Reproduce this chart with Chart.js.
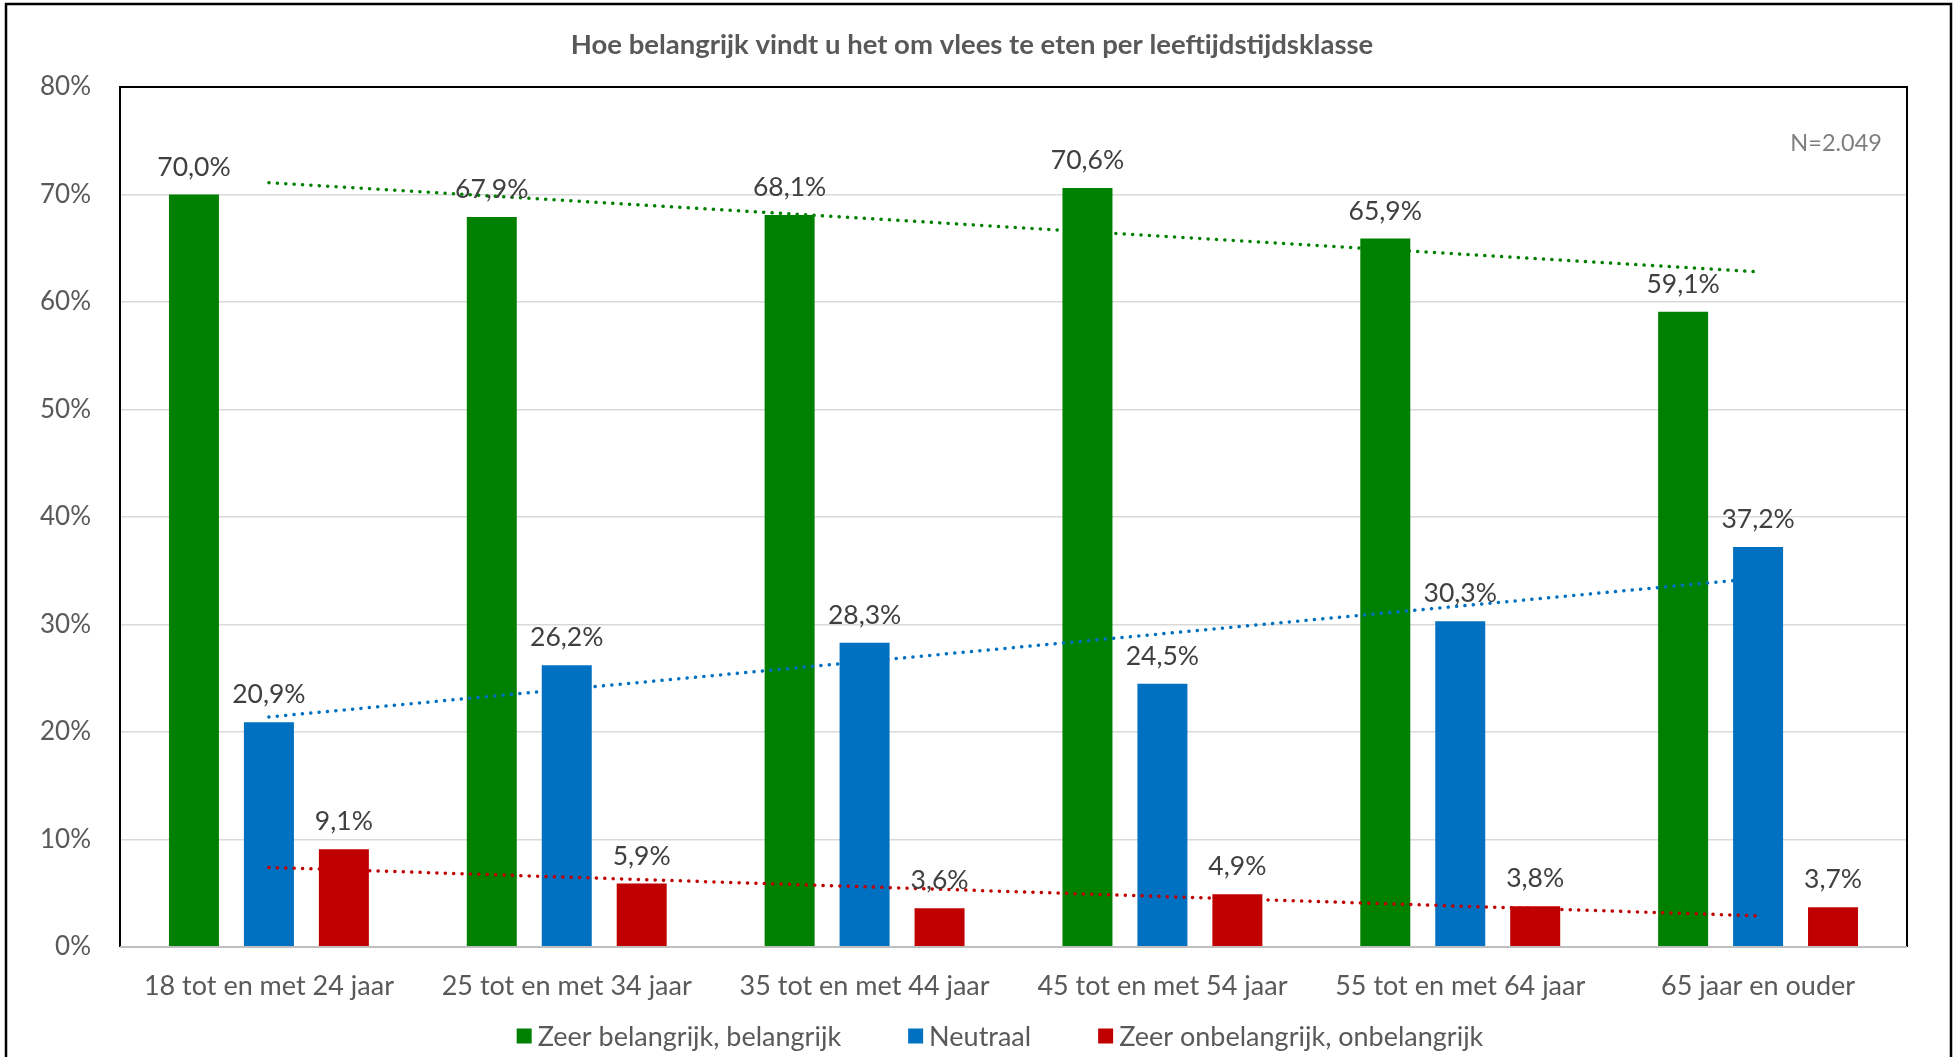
<!DOCTYPE html>
<html>
<head>
<meta charset="utf-8">
<script src="https://cdn.jsdelivr.net/npm/chart.js@4.4.1/dist/chart.umd.min.js"></script>
<style>
  html, body { margin: 0; padding: 0; background: #fff; overflow: hidden; }
  #wrap { position: relative; width: 1957px; height: 1057px; }
</style>
</head>
<body>
<div id="wrap"><canvas id="chart" width="1957" height="1057"></canvas></div>
<script>
// Data
const chartTitle = 'Hoe belangrijk vindt u het om vlees te eten per leeftijdstijdsklasse';
const sampleNote = 'N=2.049';
const categories = [
  '18 tot en met 24 jaar',
  '25 tot en met 34 jaar',
  '35 tot en met 44 jaar',
  '45 tot en met 54 jaar',
  '55 tot en met 64 jaar',
  '65 jaar en ouder'
];
const seriesLabels = ['Zeer belangrijk, belangrijk', 'Neutraal', 'Zeer onbelangrijk, onbelangrijk'];
const importantValues = [70.0, 67.9, 68.1, 70.6, 65.9, 59.1];
const neutralValues = [20.9, 26.2, 28.3, 24.5, 30.3, 37.2];
const unimportantValues = [9.1, 5.9, 3.6, 4.9, 3.8, 3.7];
// trend lines: value at first and last category
const importantTrend = [71.1, 62.8];
const neutralTrend = [21.4, 34.3];
const unimportantTrend = [7.4, 2.9];
const yTicks = [0, 10, 20, 30, 40, 50, 60, 70, 80];
const seriesColors = ['#008000', '#0070C0', '#C00000'];

const FONT = 'Lato';
const TEXT_GREY = '#595959';

function trendData(pair) {
  return categories.map((c, i) => {
    if (i === 0) return pair[0];
    if (i === categories.length - 1) return pair[1];
    return null;
  });
}

function pct(v) {
  return v.toFixed(1).replace('.', ',') + '%';
}

function barSet(label, data, color) {
  return {
    type: 'bar',
    label: label,
    data: data,
    backgroundColor: color,
    borderWidth: 0,
    categoryPercentage: 0.755,
    barPercentage: 0.667,
    order: 2
  };
}

function trendSet(pair, color) {
  return {
    type: 'line',
    label: 'trend',
    data: trendData(pair),
    borderColor: color,
    borderWidth: 3.5,
    borderDash: [0.1, 8.3],
    borderCapStyle: 'round',
    pointRadius: 0,
    spanGaps: true,
    fill: false,
    order: 1
  };
}

// Frame, title, note, data labels and legend
const decorPlugin = {
  id: 'decor',
  afterDatasetsDraw(chart) {
    const ctx = chart.ctx;
    ctx.save();

    // data labels above bars
    ctx.font = '26.5px ' + FONT;
    ctx.fillStyle = '#404040';
    ctx.textAlign = 'center';
    ctx.textBaseline = 'alphabetic';
    chart.data.datasets.forEach((ds, di) => {
      if (ds.type !== 'bar') return;
      chart.getDatasetMeta(di).data.forEach((el, i) => {
        ctx.fillText(pct(ds.data[i]), el.x, el.y - 19);
      });
    });
    ctx.restore();
  },
  afterDraw(chart) {
    const ctx = chart.ctx;
    const a = chart.chartArea;
    ctx.save();

    // plot frame
    ctx.strokeStyle = '#000';
    ctx.lineWidth = 2;
    ctx.beginPath();
    ctx.moveTo(a.left, a.bottom);
    ctx.lineTo(a.left, a.top);
    ctx.lineTo(a.right, a.top);
    ctx.lineTo(a.right, a.bottom);
    ctx.stroke();
    ctx.strokeStyle = '#bfbfbf';
    ctx.beginPath();
    ctx.moveTo(a.left, a.bottom);
    ctx.lineTo(a.right, a.bottom);
    ctx.stroke();

    // outer border
    ctx.strokeStyle = '#000';
    ctx.lineWidth = 2.5;
    ctx.strokeRect(6, 4, 1945, 1100);

    // title
    ctx.fillStyle = TEXT_GREY;
    ctx.font = 'bold 27.5px ' + FONT;
    ctx.textAlign = 'center';
    ctx.textBaseline = 'middle';
    ctx.fillText(chartTitle, 972, 45);

    // sample size note
    ctx.fillStyle = '#7f7f7f';
    ctx.font = '23.5px ' + FONT;
    ctx.textAlign = 'right';
    ctx.fillText(sampleNote, a.right - 25, a.top + 56);

    // legend
    ctx.font = '27px ' + FONT;
    ctx.textAlign = 'left';
    const box = 15, boxGap = 6, itemGap = 67;
    const widths = seriesLabels.map(l => box + boxGap + ctx.measureText(l).width);
    const total = widths.reduce((s, w) => s + w, 0) + itemGap * (widths.length - 1);
    let x = 1000 - total / 2;
    const y = 1036;
    seriesLabels.forEach((l, i) => {
      ctx.fillStyle = seriesColors[i];
      ctx.fillRect(x, y - box / 2, box, box);
      ctx.fillStyle = TEXT_GREY;
      ctx.fillText(l, x + box + boxGap, y + 1);
      x += widths[i] + itemGap;
    });

    ctx.restore();
  }
};

document.addEventListener('DOMContentLoaded', function() {
  const ctx = document.getElementById('chart').getContext('2d');
  new Chart(ctx, {
    data: {
      labels: categories,
      datasets: [
        barSet(seriesLabels[0], importantValues, seriesColors[0]),
        barSet(seriesLabels[1], neutralValues, seriesColors[1]),
        barSet(seriesLabels[2], unimportantValues, seriesColors[2]),
        trendSet(importantTrend, seriesColors[0]),
        trendSet(neutralTrend, seriesColors[1]),
        trendSet(unimportantTrend, seriesColors[2])
      ]
    },
    options: {
      responsive: false,
      animation: false,
      layout: {
        padding: { top: 87, right: 50, left: 0, bottom: 0 }
      },
      plugins: {
        legend: { display: false },
        title: { display: false },
        tooltip: { enabled: false }
      },
      scales: {
        x: {
          grid: { display: false, drawTicks: false },
          border: { display: false },
          ticks: {
            color: TEXT_GREY,
            font: { family: FONT, size: 27 },
            padding: 23,
            maxRotation: 0
          },
          afterFit: s => { s.height = 110; }
        },
        y: {
          min: 0,
          max: 80,
          afterBuildTicks: s => { s.ticks = yTicks.map(v => ({ value: v })); },
          grid: { color: '#d9d9d9', lineWidth: 1.5, drawTicks: false },
          border: { display: false },
          ticks: {
            color: TEXT_GREY,
            font: { family: FONT, size: 26 },
            padding: 29,
            callback: v => v + '%'
          },
          afterFit: s => { s.width = 120; }
        }
      }
    },
    plugins: [decorPlugin]
  });
});
</script>
</body>
</html>
